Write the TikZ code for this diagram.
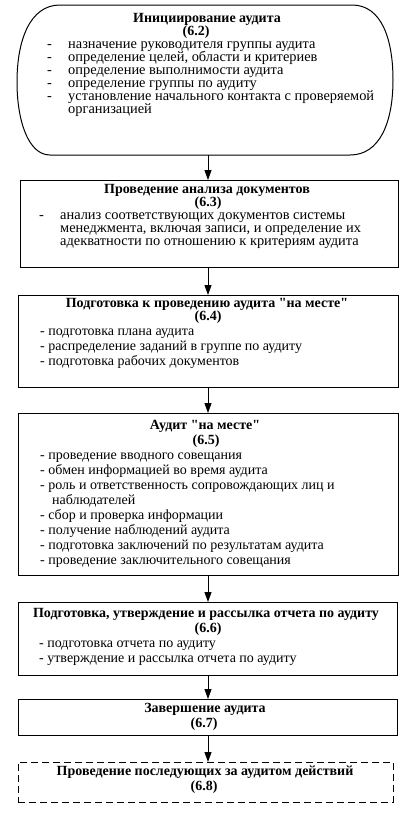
\documentclass[tikz,border=0pt]{standalone}
\usepackage{fontspec}
\setmainfont{Liberation Serif}
\newfontfamily\plainqf{Liberation Serif}
\usetikzlibrary{arrows.meta}
\newcommand{\qq}{{\plainqf\symbol{34}}}
\begin{document}
\begin{tikzpicture}[x=1pt,y=-1pt,
  box/.style={draw,line width=0.9pt,minimum width=#1,inner sep=0pt,anchor=north west},
  ttl/.style={font=\fontsize{14}{15}\selectfont\bfseries,anchor=mid,inner sep=0pt},
  txt/.style={font=\fontsize{14}{15}\selectfont,anchor=mid west,inner sep=0pt},
  txtb/.style={font=\fontsize{14.4}{15}\selectfont,anchor=mid west,inner sep=0pt},
  flow/.style={line width=0.9pt,-{Triangle[width=7pt,length=10pt]}}]
\useasboundingbox (0,0) rectangle (406,817);
% box 1 (stadium)
\draw[line width=1pt] (60,5) -- (352,5) .. controls (382,5) and (393,40) .. (393,80)
  .. controls (393,122) and (380,155) .. (350,155) -- (50,155)
  .. controls (28,155) and (17,120) .. (17,82) .. controls (17,40) and (30,5) .. (60,5);
\node[minimum width=376pt,minimum height=150pt,inner sep=0pt,anchor=north west] (b1) at (17,5) {};
\node[ttl] (t1) at (207,20) {Инициирование аудита};
\node[ttl] (n1) at (196,33) {(6.2)};
\foreach \yy/\tx [count=\i] in {46/назначение руководителя группы аудита,
  59/{определение целей, области и критериев},
  72/определение выполнимости аудита,
  85/определение группы по аудиту,
  98/установление начального контакта с проверяемой}{
  \node[txtb] (d1\i) at (47,\yy) {-};
  \node[txtb] (l1\i) at (68,\yy) {\tx};}
\node[txtb] (l16) at (68,111) {организацией};
% box 2
\node[box=378pt,minimum height=87pt] (b2) at (20,180) {};
\node[ttl] (t2) at (207,191) {Проведение анализа документов};
\node[ttl] (n2) at (208,204) {(6.3)};
\node[txtb] (d21) at (39,217) {-};
\node[txtb] (l21) at (60,217) {анализ соответствующих документов системы};
\node[txtb] (l22) at (60,230) {менеджмента, включая записи, и определение их};
\node[txtb] (l23) at (60,243) {адекватности по отношению к критериям аудита};
% box 3
\node[box=380pt,minimum height=92pt] (b3) at (18,295) {};
\node[ttl] (t3) at (207,305) {Подготовка к проведению аудита \qq на месте\qq};
\node[ttl] (n3) at (208,318) {(6.4)};
\node[txt] (l31) at (40,333) {- подготовка плана аудита};
\node[txt] (l32) at (40,348) {- распределение заданий в группе по аудиту};
\node[txt] (l33) at (40,363) {- подготовка рабочих документов};
% box 4
\node[box=380pt,minimum height=162pt] (b4) at (18,413) {};
\node[ttl] (t4) at (205,427) {Аудит \qq на месте\qq};
\node[ttl] (n4) at (206,442) {(6.5)};
\foreach \yy/\tx [count=\i] in {457/проведение вводного совещания,
  472/обмен информацией во время аудита,
  487/роль и ответственность сопровождающих лиц и,
  517/сбор и проверка информации,
  532/получение наблюдений аудита,
  547/подготовка заключений по результатам аудита,
  562/проведение заключительного совещания}{
  \node[txt] (l4\i) at (40,\yy) {- \tx};}
\node[txt] (l48) at (52,502) {наблюдателей};
% box 5
\node[box=379pt,minimum height=73pt] (b5) at (18,602) {};
\node[ttl] (t5) at (206,615) {Подготовка, утверждение и рассылка отчета по аудиту};
\node[ttl] (n5) at (208,630) {(6.6)};
\node[txt] (l51) at (39,645) {- подготовка отчета по аудиту};
\node[txt] (l52) at (39,660) {- утверждение и рассылка отчета по аудиту};
% box 6
\node[box=379pt,minimum height=36pt] (b6) at (18,699) {};
\node[ttl] (t6) at (205,710) {Завершение аудита};
\node[ttl] (n6) at (204,725) {(6.7)};
% box 7 dashed
\node[box=375pt,minimum height=40pt,dash pattern=on 7pt off 4pt] (b7) at (18,762) {};
\node[ttl] (t7) at (205,773) {Проведение последующих за аудитом действий};
\node[ttl] (n7) at (204,788) {(6.8)};
% arrows
\draw[flow] (b1.south -| 208,0) -- (b2.north -| 208,0);
\draw[flow] (b2.south -| 208,0) -- (b3.north -| 208,0);
\draw[flow] (b3.south -| 208,0) -- (b4.north -| 208,0);
\draw[flow] (b4.south -| 208,0) -- (b5.north -| 208,0);
\draw[flow] (b5.south -| 208,0) -- (b6.north -| 208,0);
\draw[flow] (b6.south -| 208,0) -- (b7.north -| 208,0);
\end{tikzpicture}
\end{document}
